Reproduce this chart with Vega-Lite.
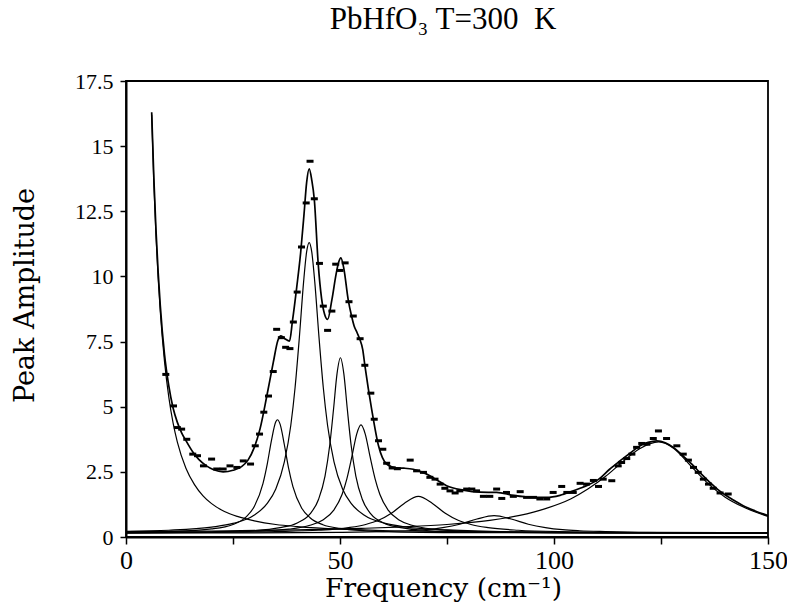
{
  "$schema": "https://vega.github.io/schema/vega-lite/v6.json",
  "width": 642,
  "height": 456,
  "autosize": {"type": "none"},
  "padding": {"left": 126, "top": 81, "right": 19, "bottom": 68},
  "background": "white",
  "title": {"text": "PbHfO₃ T=300\u00a0\u00a0K", "font": "Liberation Serif", "fontSize": 31, "fontWeight": "normal", "color": "black", "anchor": "middle", "offset": 34, "dx": -4},
  "config": {
    "view": {"stroke": "black", "strokeWidth": 1.8},
    "axis": {"grid": false, "domainColor": "black", "domainWidth": 2, "tickColor": "black", "tickWidth": 1.5, "labelColor": "black", "titleColor": "black"}
  },
  "datasets": {
    "comp": [
      {"s":"C","f":6,"v":16.2},{"s":"C","f":6.5,"v":13.61},{"s":"C","f":7,"v":11.58},{"s":"C","f":7.5,"v":9.97},{"s":"C","f":8,"v":8.67},{"s":"C","f":9,"v":6.73},{"s":"C","f":10,"v":5.37},{"s":"C","f":11,"v":4.38},{"s":"C","f":12,"v":3.64},{"s":"C","f":14,"v":2.64},{"s":"C","f":16,"v":2.01},{"s":"C","f":18,"v":1.58},{"s":"C","f":20,"v":1.28},{"s":"C","f":23,"v":0.98},{"s":"C","f":26,"v":0.79},{"s":"C","f":30,"v":0.62},{"s":"C","f":35,"v":0.48},{"s":"C","f":40,"v":0.40},{"s":"C","f":50,"v":0.30},{"s":"C","f":60,"v":0.25},{"s":"C","f":80,"v":0.20},{"s":"C","f":100,"v":0.18},{"s":"C","f":125,"v":0.17},{"s":"C","f":150,"v":0.16},
      {"s":"P1","f":0,"v":0.18},{"s":"P1","f":10,"v":0.21},{"s":"P1","f":20,"v":0.31},{"s":"P1","f":25,"v":0.48},{"s":"P1","f":28,"v":0.76},{"s":"P1","f":30,"v":1.18},{"s":"P1","f":32,"v":2.05},{"s":"P1","f":33,"v":2.80},{"s":"P1","f":34,"v":3.72},{"s":"P1","f":35,"v":4.42},{"s":"P1","f":35.4,"v":4.50},{"s":"P1","f":36,"v":4.33},{"s":"P1","f":37,"v":3.54},{"s":"P1","f":38,"v":2.63},{"s":"P1","f":39,"v":1.93},{"s":"P1","f":41,"v":1.12},{"s":"P1","f":43,"v":0.74},{"s":"P1","f":46,"v":0.47},{"s":"P1","f":50,"v":0.33},{"s":"P1","f":60,"v":0.21},{"s":"P1","f":80,"v":0.17},{"s":"P1","f":110,"v":0.16},{"s":"P1","f":150,"v":0.15},
      {"s":"P2","f":0,"v":0.22},{"s":"P2","f":10,"v":0.26},{"s":"P2","f":20,"v":0.38},{"s":"P2","f":25,"v":0.52},{"s":"P2","f":30,"v":0.84},{"s":"P2","f":33,"v":1.29},{"s":"P2","f":35,"v":1.84},{"s":"P2","f":37,"v":2.88},{"s":"P2","f":38.5,"v":4.28},{"s":"P2","f":39.5,"v":5.73},{"s":"P2","f":40.5,"v":7.65},{"s":"P2","f":41.5,"v":9.80},{"s":"P2","f":42.2,"v":10.94},{"s":"P2","f":42.8,"v":11.30},{"s":"P2","f":43.4,"v":10.94},{"s":"P2","f":44.1,"v":9.80},{"s":"P2","f":45.1,"v":7.65},{"s":"P2","f":46.1,"v":5.73},{"s":"P2","f":47.1,"v":4.28},{"s":"P2","f":48.6,"v":2.88},{"s":"P2","f":50.6,"v":1.84},{"s":"P2","f":52.6,"v":1.29},{"s":"P2","f":55.6,"v":0.84},{"s":"P2","f":60.6,"v":0.52},{"s":"P2","f":65.6,"v":0.38},{"s":"P2","f":75,"v":0.27},{"s":"P2","f":90,"v":0.20},{"s":"P2","f":120,"v":0.17},{"s":"P2","f":150,"v":0.16},
      {"s":"P3","f":0,"v":0.17},{"s":"P3","f":20,"v":0.20},{"s":"P3","f":30,"v":0.25},{"s":"P3","f":36,"v":0.36},{"s":"P3","f":40,"v":0.54},{"s":"P3","f":43,"v":0.89},{"s":"P3","f":45,"v":1.45},{"s":"P3","f":46.5,"v":2.34},{"s":"P3","f":47.6,"v":3.52},{"s":"P3","f":48.5,"v":4.92},{"s":"P3","f":49.3,"v":6.26},{"s":"P3","f":50.1,"v":6.88},{"s":"P3","f":50.9,"v":6.26},{"s":"P3","f":51.7,"v":4.92},{"s":"P3","f":52.6,"v":3.52},{"s":"P3","f":53.7,"v":2.34},{"s":"P3","f":55.2,"v":1.45},{"s":"P3","f":57.2,"v":0.89},{"s":"P3","f":60.2,"v":0.54},{"s":"P3","f":64.2,"v":0.36},{"s":"P3","f":70.2,"v":0.25},{"s":"P3","f":80,"v":0.20},{"s":"P3","f":110,"v":0.16},{"s":"P3","f":150,"v":0.15},
      {"s":"P4","f":0,"v":0.16},{"s":"P4","f":20,"v":0.19},{"s":"P4","f":30,"v":0.22},{"s":"P4","f":38,"v":0.30},{"s":"P4","f":43,"v":0.45},{"s":"P4","f":46,"v":0.65},{"s":"P4","f":48.5,"v":1.02},{"s":"P4","f":50.5,"v":1.64},{"s":"P4","f":51.6,"v":2.23},{"s":"P4","f":52.8,"v":3.10},{"s":"P4","f":53.9,"v":3.95},{"s":"P4","f":54.9,"v":4.30},{"s":"P4","f":55.9,"v":3.95},{"s":"P4","f":57.0,"v":3.10},{"s":"P4","f":58.2,"v":2.23},{"s":"P4","f":59.3,"v":1.64},{"s":"P4","f":61.3,"v":1.02},{"s":"P4","f":63.8,"v":0.65},{"s":"P4","f":66.8,"v":0.45},{"s":"P4","f":71.8,"v":0.30},{"s":"P4","f":80,"v":0.22},{"s":"P4","f":100,"v":0.17},{"s":"P4","f":150,"v":0.15},
      {"s":"P5","f":0,"v":0.16},{"s":"P5","f":20,"v":0.18},{"s":"P5","f":35,"v":0.21},{"s":"P5","f":45,"v":0.26},{"s":"P5","f":52,"v":0.36},{"s":"P5","f":56,"v":0.48},{"s":"P5","f":59,"v":0.64},{"s":"P5","f":62,"v":0.91},{"s":"P5","f":65,"v":1.29},{"s":"P5","f":68.3,"v":1.56},{"s":"P5","f":71.6,"v":1.29},{"s":"P5","f":74.6,"v":0.91},{"s":"P5","f":77.6,"v":0.64},{"s":"P5","f":80.6,"v":0.48},{"s":"P5","f":84.6,"v":0.36},{"s":"P5","f":91.6,"v":0.26},{"s":"P5","f":103,"v":0.20},{"s":"P5","f":120,"v":0.17},{"s":"P5","f":150,"v":0.16},
      {"s":"P6","f":0,"v":0.16},{"s":"P6","f":30,"v":0.16},{"s":"P6","f":50,"v":0.18},{"s":"P6","f":60,"v":0.21},{"s":"P6","f":66,"v":0.24},{"s":"P6","f":70,"v":0.28},{"s":"P6","f":74,"v":0.36},{"s":"P6","f":78,"v":0.49},{"s":"P6","f":82,"v":0.69},{"s":"P6","f":86,"v":0.82},{"s":"P6","f":90,"v":0.69},{"s":"P6","f":94,"v":0.49},{"s":"P6","f":98,"v":0.36},{"s":"P6","f":102,"v":0.28},{"s":"P6","f":106,"v":0.24},{"s":"P6","f":112,"v":0.21},{"s":"P6","f":122,"v":0.18},{"s":"P6","f":150,"v":0.16},
      {"s":"P7","f":0,"v":0.21},{"s":"P7","f":20,"v":0.23},{"s":"P7","f":40,"v":0.27},{"s":"P7","f":55,"v":0.33},{"s":"P7","f":65,"v":0.39},{"s":"P7","f":75,"v":0.48},{"s":"P7","f":85,"v":0.64},{"s":"P7","f":92,"v":0.83},{"s":"P7","f":98,"v":1.09},{"s":"P7","f":104,"v":1.47},{"s":"P7","f":108,"v":1.85},{"s":"P7","f":112,"v":2.32},{"s":"P7","f":116,"v":2.88},{"s":"P7","f":120,"v":3.39},{"s":"P7","f":124.5,"v":3.65},{"s":"P7","f":128,"v":3.40},{"s":"P7","f":132,"v":2.72},{"s":"P7","f":136,"v":2.05},{"s":"P7","f":140,"v":1.53},{"s":"P7","f":144,"v":1.17},{"s":"P7","f":148,"v":0.90},{"s":"P7","f":150,"v":0.79}
    ],
    "fit": [
      {"f":6,"v":16.3},{"f":6.5,"v":13.8},{"f":7,"v":11.8},{"f":7.5,"v":10.2},{"f":8,"v":8.9},{"f":9,"v":7.0},{"f":10,"v":5.8},{"f":11,"v":4.95},{"f":12,"v":4.4},{"f":13,"v":4.0},{"f":14,"v":3.7},{"f":15.7,"v":3.24},{"f":17,"v":2.98},{"f":18.8,"v":2.73},{"f":20.5,"v":2.58},{"f":22.7,"v":2.5},{"f":25,"v":2.56},{"f":27,"v":2.7},{"f":28.5,"v":2.95},{"f":30,"v":3.45},{"f":31.3,"v":4.14},{"f":32.9,"v":5.41},{"f":34.4,"v":6.69},{"f":35.5,"v":7.55},{"f":36.2,"v":7.72},{"f":37.2,"v":7.6},{"f":38.2,"v":7.52},{"f":38.9,"v":8.3},{"f":39.9,"v":9.6},{"f":40.8,"v":10.9},{"f":41.6,"v":12.4},{"f":42.2,"v":13.6},{"f":42.8,"v":14.13},{"f":43.4,"v":13.7},{"f":44,"v":12.95},{"f":44.9,"v":10.5},{"f":45.7,"v":9.15},{"f":46.4,"v":8.55},{"f":47.1,"v":8.35},{"f":48.1,"v":9.1},{"f":49.1,"v":10.1},{"f":49.7,"v":10.55},{"f":50.2,"v":10.71},{"f":50.9,"v":10.3},{"f":51.9,"v":9.12},{"f":52.7,"v":8.48},{"f":53.3,"v":8.1},{"f":54,"v":7.84},{"f":54.6,"v":7.6},{"f":55.3,"v":7.2},{"f":55.8,"v":6.6},{"f":57.4,"v":4.9},{"f":59,"v":3.5},{"f":60.9,"v":2.8},{"f":63.2,"v":2.65},{"f":65,"v":2.64},{"f":67.1,"v":2.6},{"f":69,"v":2.5},{"f":71,"v":2.35},{"f":73,"v":2.15},{"f":74.9,"v":1.97},{"f":78.8,"v":1.8},{"f":82.7,"v":1.72},{"f":86.6,"v":1.71},{"f":90.5,"v":1.6},{"f":94.4,"v":1.53},{"f":98.3,"v":1.52},{"f":101.4,"v":1.6},{"f":104,"v":1.74},{"f":106.1,"v":1.87},{"f":108,"v":2.0},{"f":110.7,"v":2.25},{"f":113,"v":2.6},{"f":115.4,"v":2.92},{"f":118,"v":3.25},{"f":120.1,"v":3.5},{"f":122,"v":3.63},{"f":124,"v":3.69},{"f":126,"v":3.62},{"f":127.9,"v":3.44},{"f":130,"v":3.13},{"f":132.6,"v":2.73},{"f":134.5,"v":2.4},{"f":136.4,"v":2.1},{"f":138.3,"v":1.82},{"f":140.3,"v":1.58},{"f":142.3,"v":1.38},{"f":144.2,"v":1.2},{"f":147,"v":1.0},{"f":150,"v":0.82}
    ],
    "obs": [
      {"f":9.3,"v":6.24},{"f":11.1,"v":5.03},{"f":12.0,"v":4.20},{"f":13.0,"v":4.14},{"f":14.2,"v":3.75},{"f":15.6,"v":3.18},{"f":16.7,"v":3.12},{"f":18.1,"v":2.73},{"f":20.0,"v":2.99},{"f":21.2,"v":2.61},{"f":22.7,"v":2.61},{"f":24.3,"v":2.73},{"f":25.9,"v":2.67},{"f":27.4,"v":2.92},{"f":29.1,"v":2.80},{"f":30.2,"v":3.50},{"f":31.2,"v":3.95},{"f":32.2,"v":4.79},{"f":33.3,"v":5.41},{"f":34.4,"v":6.35},{"f":35.2,"v":7.97},{"f":36.3,"v":7.65},{"f":37.3,"v":7.28},{"f":38.3,"v":7.23},{"f":39.1,"v":8.25},{"f":40.0,"v":9.40},{"f":41.0,"v":11.13},{"f":42.1,"v":12.82},{"f":43.0,"v":14.42},{"f":44.0,"v":12.98},{"f":45.2,"v":10.50},{"f":46.1,"v":8.86},{"f":47.1,"v":7.93},{"f":48.1,"v":8.67},{"f":49.0,"v":10.47},{"f":50.0,"v":10.23},{"f":51.2,"v":10.52},{"f":52.1,"v":9.03},{"f":53.1,"v":8.48},{"f":54.7,"v":7.61},{"f":55.8,"v":6.59},{"f":57.2,"v":5.52},{"f":58.0,"v":4.52},{"f":59.0,"v":3.69},{"f":60.0,"v":3.37},{"f":60.9,"v":2.83},{"f":62.2,"v":2.65},{"f":63.4,"v":2.62},{"f":66.4,"v":2.95},{"f":67.9,"v":2.54},{"f":69.5,"v":2.48},{"f":71.0,"v":2.29},{"f":72.2,"v":2.22},{"f":73.4,"v":2.03},{"f":74.5,"v":1.87},{"f":75.7,"v":1.77},{"f":76.9,"v":1.69},{"f":78.0,"v":1.77},{"f":79.6,"v":1.84},{"f":80.8,"v":1.84},{"f":81.9,"v":1.77},{"f":83.5,"v":1.56},{"f":85.0,"v":1.56},{"f":86.6,"v":1.84},{"f":87.8,"v":1.48},{"f":88.9,"v":1.71},{"f":90.5,"v":1.56},{"f":92.1,"v":1.74},{"f":93.6,"v":1.52},{"f":95.2,"v":1.52},{"f":96.7,"v":1.46},{"f":98.3,"v":1.46},{"f":99.8,"v":1.71},{"f":101.8,"v":1.94},{"f":103.0,"v":1.71},{"f":104.5,"v":1.71},{"f":106.1,"v":2.06},{"f":107.6,"v":2.03},{"f":109.2,"v":2.17},{"f":110.4,"v":1.94},{"f":111.5,"v":2.22},{"f":113.5,"v":2.16},{"f":115.0,"v":2.73},{"f":115.8,"v":2.86},{"f":117.0,"v":3.01},{"f":118.2,"v":3.18},{"f":119.3,"v":3.44},{"f":120.5,"v":3.59},{"f":121.7,"v":3.56},{"f":123.2,"v":3.78},{"f":124.4,"v":4.07},{"f":126.3,"v":3.78},{"f":128.7,"v":3.50},{"f":130.2,"v":3.18},{"f":131.4,"v":2.95},{"f":132.6,"v":2.67},{"f":133.7,"v":2.48},{"f":134.9,"v":2.22},{"f":136.1,"v":2.03},{"f":137.2,"v":1.87},{"f":138.8,"v":1.69},{"f":140.7,"v":1.65}
    ]
  },
  "encoding": {
    "x": {"field": "f", "type": "quantitative", "scale": {"domain": [0, 150], "nice": false},
      "axis": {"values": [0, 25, 50, 75, 100, 125, 150], "labelExpr": "datum.value % 50 === 0 ? '' + datum.value : ''", "tickSize": 7, "labelPadding": 3, "labelFont": "Liberation Serif", "labelFontSize": 26, "labelFlush": false, "title": "Frequency (cm⁻¹)", "titleFont": "DejaVu Serif", "titleFontSize": 26.5, "titleFontWeight": "normal", "titleX": 317, "titleY": 59.5, "titleBaseline": "alphabetic", "titleAlign": "center"}},
    "y": {"field": "v", "type": "quantitative", "scale": {"domain": [0, 17.5], "nice": false},
      "axis": {"values": [0, 2.5, 5, 7.5, 10, 12.5, 15, 17.5], "labelExpr": "'' + datum.value", "tickSize": 6, "labelPadding": 7, "labelFont": "Liberation Serif", "labelFontSize": 22, "labelFlush": false, "title": "Peak Amplitude", "titleFont": "DejaVu Serif", "titleFontSize": 27, "titleFontWeight": "normal", "titleAngle": -90, "titleX": -93, "titleY": 214, "titleBaseline": "alphabetic", "titleAlign": "center"}}
  },
  "layer": [
    {"data": {"name": "comp"}, "mark": {"type": "line", "color": "black", "strokeWidth": 1.2, "interpolate": "monotone", "clip": true}, "encoding": {"detail": {"field": "s"}}},
    {"data": {"name": "fit"}, "mark": {"type": "line", "color": "black", "strokeWidth": 1.7, "interpolate": "monotone", "clip": true}},
    {"data": {"name": "obs"}, "mark": {"type": "tick", "orient": "horizontal", "color": "black", "size": 7, "thickness": 3, "opacity": 1}}
  ]
}
